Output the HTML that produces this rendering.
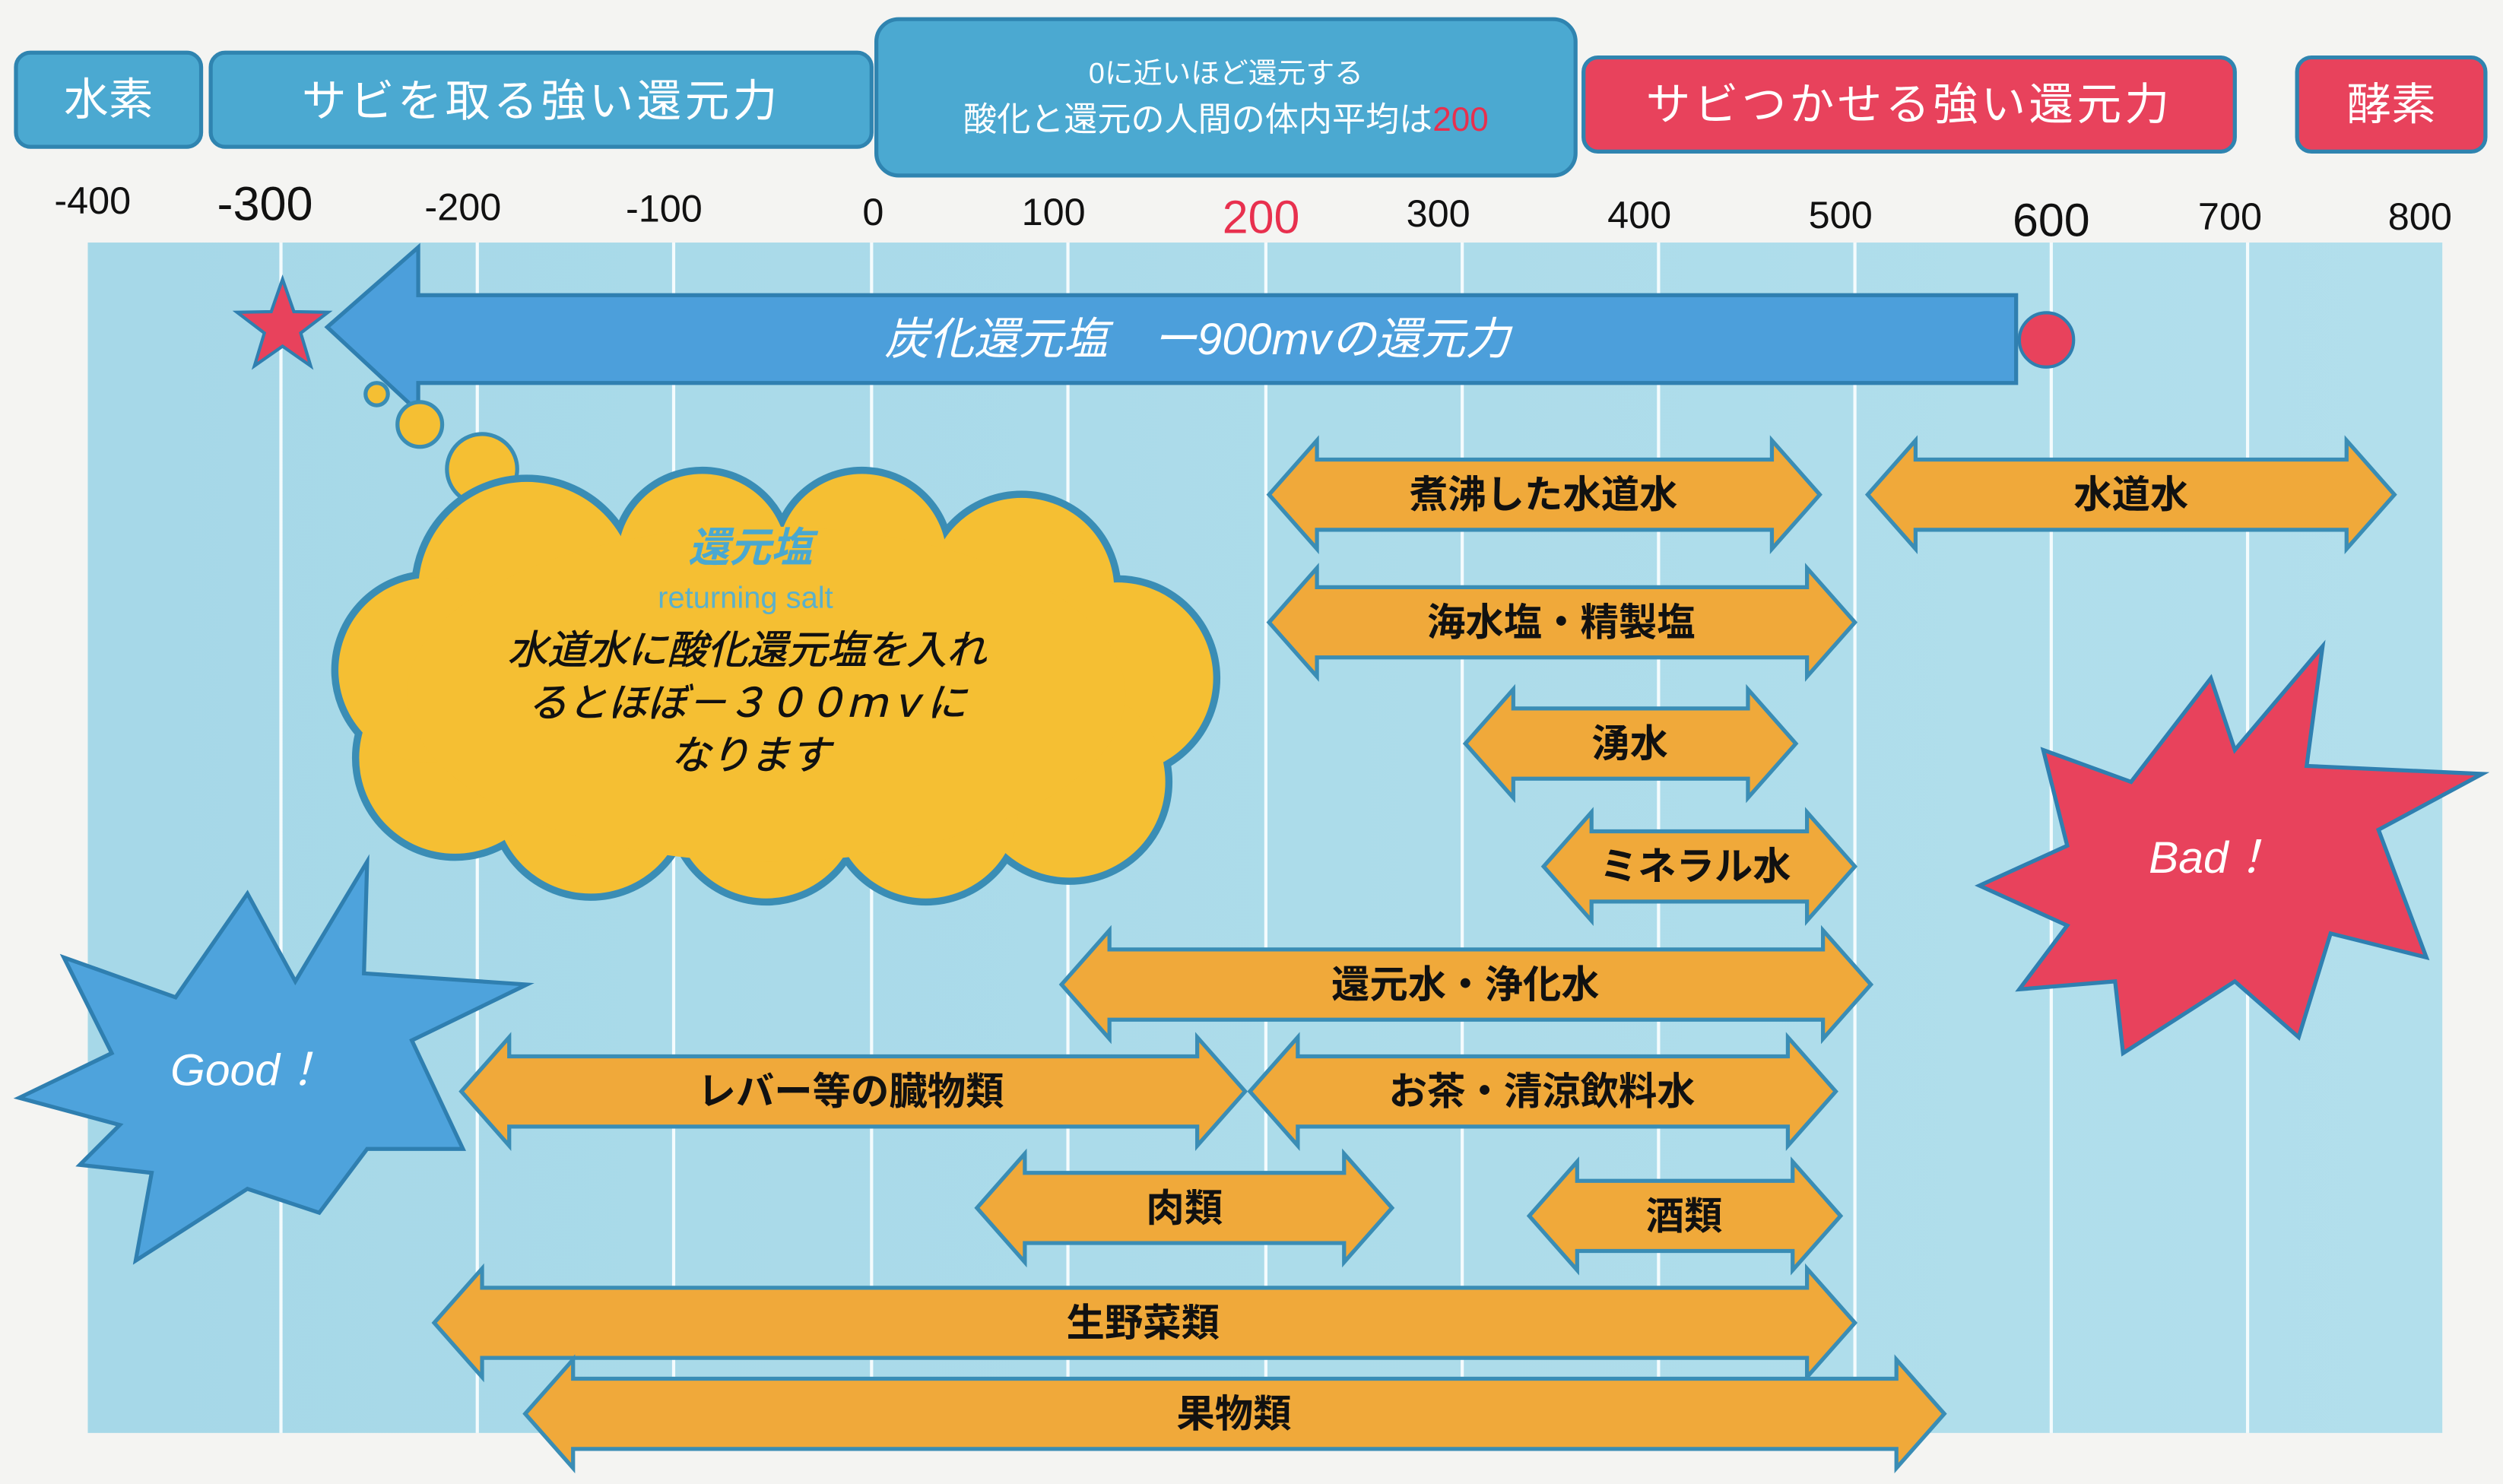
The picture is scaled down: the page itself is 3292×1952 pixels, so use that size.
<!DOCTYPE html>
<html><head><meta charset="utf-8"><style>
html,body{margin:0;padding:0;background:#f4f4f2;}
svg{display:block}
text{font-family:"Liberation Sans","Noto Sans CJK JP",sans-serif;}
.ar{fill:#f0a93a;stroke:#3a8db5;stroke-width:2.5}
.al{font-size:24px;font-weight:bold;fill:#111;text-anchor:middle;dominant-baseline:central}
</style></head><body>
<svg width="3292" height="1952" viewBox="0 0 1568 930" preserveAspectRatio="none" xmlns="http://www.w3.org/2000/svg">
<defs>
<linearGradient id="bg" x1="0" x2="1" y1="0" y2="0"><stop offset="0" stop-color="#a6d8e8"/><stop offset="1" stop-color="#b2dfec"/></linearGradient>
</defs>
<rect width="1568" height="930" fill="#f4f4f2"/>
<rect x="55" y="152" width="1475" height="746" fill="url(#bg)"/>
<g stroke="#f4fbfd" stroke-width="2">
<line x1="176" y1="152" x2="176" y2="898"/><line x1="299" y1="152" x2="299" y2="898"/><line x1="422" y1="152" x2="422" y2="898"/><line x1="546" y1="152" x2="546" y2="898"/><line x1="669" y1="152" x2="669" y2="898"/><line x1="793" y1="152" x2="793" y2="898"/><line x1="916" y1="152" x2="916" y2="898"/><line x1="1039" y1="152" x2="1039" y2="898"/><line x1="1162" y1="152" x2="1162" y2="898"/><line x1="1285" y1="152" x2="1285" y2="898"/><line x1="1408" y1="152" x2="1408" y2="898"/>
</g>
<g stroke="#2f84b0" stroke-width="2.5">
<rect x="10" y="33" width="116" height="59" rx="9" fill="#4ba9d1"/>
<rect x="132" y="33" width="414" height="59" rx="9" fill="#4ba9d1"/>
<rect x="549" y="12" width="438" height="98" rx="14" fill="#4ba9d1"/>
<rect x="992" y="36" width="408" height="59" rx="9" fill="#e8425c"/>
<rect x="1439" y="36" width="118" height="59" rx="9" fill="#e8425c"/>
</g>
<g fill="#fff" text-anchor="middle" font-size="28">
<text x="68" y="72">水素</text>
<text x="339" y="73" letter-spacing="2">サビを取る強い還元力</text>
<text x="768" y="52" font-size="18">0に近いほど還元する</text>
<text x="768" y="82" font-size="21">酸化と還元の人間の体内平均は<tspan fill="#e8304e">200</tspan></text>
<text x="1196" y="75" letter-spacing="2">サビつかせる強い還元力</text>
<text x="1498" y="75">酵素</text>
</g>
<g fill="#111" text-anchor="middle" font-size="24">
<text x="58" y="134">-400</text>
<text x="166" y="138" style="font-size:30px">-300</text>
<text x="290" y="138">-200</text>
<text x="416" y="139">-100</text>
<text x="547" y="141">0</text>
<text x="660" y="141">100</text>
<text x="790" y="146" style="font-size:29px;fill:#e8304e">200</text>
<text x="901" y="142">300</text>
<text x="1027" y="143">400</text>
<text x="1153" y="143">500</text>
<text x="1285" y="148" style="font-size:29px">600</text>
<text x="1397" y="144">700</text>
<text x="1516" y="144">800</text>
</g>
<polygon points="205,205 262,155 262,185 1263,185 1263,240 262,240 262,258" fill="#4c9fdb" stroke="#2f7fb0" stroke-width="2.5"/>
<text x="750" y="222" font-size="28" font-style="italic" fill="#fff" text-anchor="middle">炭化還元塩　ー900mvの還元力</text>
<circle cx="1282" cy="213" r="17" fill="#e8425c" stroke="#2f7fb0" stroke-width="2"/>
<polygon points="177,175 184.1,195.3 205.5,195.7 188.4,208.7 194.6,229.3 177,217 159.4,229.3 165.6,208.7 148.5,195.7 169.9,195.3" fill="#e8425c" stroke="#2f7fb0" stroke-width="2"/>
<g fill="#f5bf33" stroke="#3a8db5" stroke-width="2.5">
<circle cx="236" cy="247" r="7"/><circle cx="263" cy="266" r="14"/><circle cx="302" cy="294" r="22"/>
</g>
<g stroke="#3a8db5" stroke-width="5" fill="#f5bf33">
<circle cx="330" cy="370" r="70"/><circle cx="440" cy="350" r="55"/><circle cx="540" cy="350" r="55"/><circle cx="640" cy="370" r="60"/><circle cx="700" cy="425" r="62"/><circle cx="670" cy="490" r="62"/><circle cx="580" cy="505" r="60"/><circle cx="480" cy="505" r="60"/><circle cx="370" cy="500" r="62"/><circle cx="285" cy="475" r="62"/><circle cx="270" cy="420" r="60"/>
</g>
<g fill="#f5bf33">
<circle cx="330" cy="370" r="68"/><circle cx="440" cy="350" r="53"/><circle cx="540" cy="350" r="53"/><circle cx="640" cy="370" r="58"/><circle cx="700" cy="425" r="60"/><circle cx="670" cy="490" r="60"/><circle cx="580" cy="505" r="58"/><circle cx="480" cy="505" r="58"/><circle cx="370" cy="500" r="60"/><circle cx="285" cy="475" r="60"/><circle cx="270" cy="420" r="58"/>
<ellipse cx="480" cy="435" rx="225" ry="105"/>
</g>
<text x="470" y="352" font-size="26" font-weight="bold" font-style="italic" fill="#4aa8d0" text-anchor="middle">還元塩</text>
<text x="467" y="381" font-size="19" fill="#5ab0cc" text-anchor="middle">returning salt</text>
<g font-size="25" font-style="italic" fill="#111" text-anchor="middle" stroke="#111" stroke-width="0.4">
<text x="468" y="416">水道水に酸化還元塩を入れ</text>
<text x="468" y="449">るとほぼ－３００ｍｖに</text>
<text x="470" y="482">なります</text>
</g>
<polygon points="12,688 70,660 40,600 110,625 155,560 185,615 230,540 228,610 330,617 258,652 290,720 230,720 200,760 155,745 85,790 95,735 50,730 75,705" fill="#4ea3dc" stroke="#2f7fb0" stroke-width="2.5"/>
<text x="155" y="680" font-size="28" font-style="italic" fill="#fff" text-anchor="middle">Good！</text>
<polygon points="1240,555 1295,530 1280,470 1335,490 1385,425 1400,470 1455,405 1445,480 1555,485 1490,520 1520,600 1460,585 1440,650 1400,615 1330,660 1325,615 1265,620 1295,580" fill="#e8425c" stroke="#2f7fb0" stroke-width="2.5"/>
<text x="1385" y="547" font-size="28" font-style="italic" fill="#fff" text-anchor="middle">Bad！</text>
<polygon class="ar" points="795,310 825,276 825,288 1110,288 1110,276 1140,310 1110,344 1110,332 825,332 825,344"/>
<polygon class="ar" points="1170,310 1200,276 1200,288 1470,288 1470,276 1500,310 1470,344 1470,332 1200,332 1200,344"/>
<polygon class="ar" points="795,390 825,356 825,368 1132,368 1132,356 1162,390 1132,424 1132,412 825,412 825,424"/>
<polygon class="ar" points="918,466 948,432 948,444 1095,444 1095,432 1125,466 1095,500 1095,488 948,488 948,500"/>
<polygon class="ar" points="967,543 997,509 997,521 1132,521 1132,509 1162,543 1132,577 1132,565 997,565 997,577"/>
<polygon class="ar" points="665,617 695,583 695,595 1142,595 1142,583 1172,617 1142,651 1142,639 695,639 695,651"/>
<polygon class="ar" points="289,684 319,650 319,662 750,662 750,650 780,684 750,718 750,706 319,706 319,718"/>
<polygon class="ar" points="783,684 813,650 813,662 1120,662 1120,650 1150,684 1120,718 1120,706 813,706 813,718"/>
<polygon class="ar" points="612,757 642,723 642,735 842,735 842,723 872,757 842,791 842,779 642,779 642,791"/>
<polygon class="ar" points="958,762 988,728 988,740 1123,740 1123,728 1153,762 1123,796 1123,784 988,784 988,796"/>
<polygon class="ar" points="272,829 302,795 302,807 1132,807 1132,795 1162,829 1132,863 1132,851 302,851 302,863"/>
<polygon class="ar" points="329,886 359,852 359,864 1188,864 1188,852 1218,886 1188,920 1188,908 359,908 359,920"/>
<text class="al" x="967" y="310">煮沸した水道水</text>
<text class="al" x="1335" y="310">水道水</text>
<text class="al" x="978" y="390">海水塩・精製塩</text>
<text class="al" x="1021" y="466">湧水</text>
<text class="al" x="1062" y="543">ミネラル水</text>
<text class="al" x="918" y="617">還元水・浄化水</text>
<text class="al" x="533" y="684">レバー等の臓物類</text>
<text class="al" x="966" y="684">お茶・清涼飲料水</text>
<text class="al" x="742" y="757">肉類</text>
<text class="al" x="1055" y="762">酒類</text>
<text class="al" x="716" y="829">生野菜類</text>
<text class="al" x="773" y="886">果物類</text>
</svg>
</body></html>
